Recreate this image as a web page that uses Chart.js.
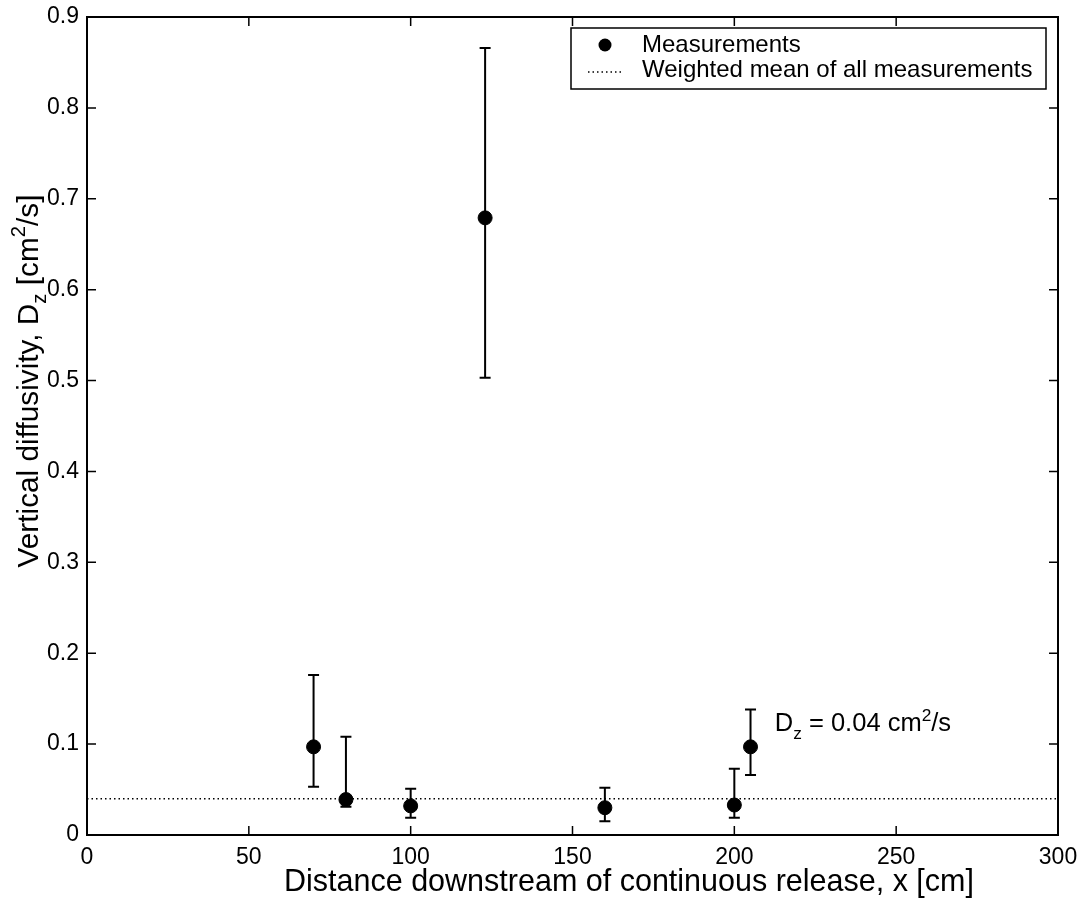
<!DOCTYPE html>
<html>
<head>
<meta charset="utf-8">
<script src="https://cdn.jsdelivr.net/npm/chart.js@4/dist/chart.umd.min.js"></script>
<style>
  html, body { margin: 0; padding: 0; background: #fff; }
  #wrap { width: 1081px; height: 901px; position: relative; }
</style>
</head>
<body>
<div id="wrap"><canvas id="c" width="1081" height="901"></canvas></div>
<script>
// Downstream distance of each measurement [cm]
const xPos = [70, 80, 100, 123, 160, 200, 205];
// Vertical diffusivity D_z [cm^2/s] with lower / upper error limits
const dz     = [0.097, 0.039, 0.032, 0.679, 0.030, 0.033, 0.097];
const dzLow  = [0.053, 0.031, 0.019, 0.503, 0.015, 0.019, 0.066];
const dzHigh = [0.176, 0.108, 0.051, 0.866, 0.052, 0.073, 0.138];
// Weighted mean of all measurements
const meanDz = 0.04;
const meanRange = [0, 300];
// Axis ticks
const xTickValues = [0, 50, 100, 150, 200, 250, 300];
const yTickValues = [0, 0.1, 0.2, 0.3, 0.4, 0.5, 0.6, 0.7, 0.8, 0.9];
const yTickLabels = ['0', '0.1', '0.2', '0.3', '0.4', '0.5', '0.6', '0.7', '0.8', '0.9'];

const FONT = '"Liberation Sans", Arial, Helvetica, sans-serif';

// Draws a string made of normal / subscript / superscript runs
function drawRuns(ctx, runs, x, y, size, align) {
  const parts = runs.map(r => {
    const s = r.mode ? size * 0.68 : size;
    ctx.font = s + 'px ' + FONT;
    return { t: r.t, mode: r.mode, s: s, w: ctx.measureText(r.t).width };
  });
  const total = parts.reduce((a, p) => a + p.w, 0);
  let cx = align === 'center' ? x - total / 2 : x;
  ctx.textAlign = 'left';
  ctx.textBaseline = 'alphabetic';
  parts.forEach(p => {
    ctx.font = p.s + 'px ' + FONT;
    let dy = 0;
    if (p.mode === 'sub') dy = size * 0.28;
    if (p.mode === 'sup') dy = -size * 0.42;
    ctx.fillText(p.t, cx, y + dy);
    cx += p.w;
  });
}

const errorBars = {
  id: 'errorBars',
  afterDatasetsDraw(chart) {
    const { ctx, scales: { x, y } } = chart;
    ctx.save();
    ctx.strokeStyle = '#000';
    ctx.lineWidth = 2;
    const cap = 5.5;
    xPos.forEach((xv, i) => {
      const px = x.getPixelForValue(xv);
      const lo = y.getPixelForValue(dzLow[i]);
      const hi = y.getPixelForValue(dzHigh[i]);
      ctx.beginPath();
      ctx.moveTo(px, lo); ctx.lineTo(px, hi);
      ctx.moveTo(px - cap, lo); ctx.lineTo(px + cap, lo);
      ctx.moveTo(px - cap, hi); ctx.lineTo(px + cap, hi);
      ctx.stroke();
    });
    ctx.restore();
  }
};

const frame = {
  id: 'frame',
  afterDraw(chart) {
    const { ctx, chartArea: a, scales: { x, y } } = chart;
    ctx.save();
    ctx.strokeStyle = '#000';
    ctx.lineWidth = 2;
    ctx.strokeRect(a.left, a.top, a.right - a.left, a.bottom - a.top);
    // inward ticks on all four sides
    const tl = 9;
    ctx.lineWidth = 1.5;
    ctx.beginPath();
    xTickValues.forEach(v => {
      const px = x.getPixelForValue(v);
      ctx.moveTo(px, a.bottom); ctx.lineTo(px, a.bottom - tl);
      ctx.moveTo(px, a.top); ctx.lineTo(px, a.top + tl);
    });
    yTickValues.forEach(v => {
      const py = y.getPixelForValue(v);
      ctx.moveTo(a.left, py); ctx.lineTo(a.left + tl, py);
      ctx.moveTo(a.right, py); ctx.lineTo(a.right - tl, py);
    });
    ctx.stroke();

    ctx.fillStyle = '#000';
    // x axis title
    drawRuns(ctx, [{ t: 'Distance downstream of continuous release, x [cm]' }], 629, 891, 30.5, 'center');
    // y axis title (rotated)
    ctx.save();
    ctx.translate(38, 381);
    ctx.rotate(-Math.PI / 2);
    drawRuns(ctx, [
      { t: 'Vertical diffusivity, D' }, { t: 'z', mode: 'sub' },
      { t: ' [cm' }, { t: '2', mode: 'sup' }, { t: '/s]' }
    ], 0, 0, 29.8, 'center');
    ctx.restore();

    // mean value annotation
    const ax = x.getPixelForValue(212.5);
    const ay = y.getPixelForValue(0.114);
    drawRuns(ctx, [
      { t: 'D' }, { t: 'z', mode: 'sub' }, { t: ' = 0.04 cm' },
      { t: '2', mode: 'sup' }, { t: '/s' }
    ], ax, ay, 25.5, 'left');

    // legend box
    const L = { left: 571, top: 28, right: 1046, bottom: 89 };
    ctx.fillStyle = '#fff';
    ctx.fillRect(L.left, L.top, L.right - L.left, L.bottom - L.top);
    ctx.lineWidth = 1.5;
    ctx.strokeStyle = '#000';
    ctx.strokeRect(L.left, L.top, L.right - L.left, L.bottom - L.top);
    ctx.fillStyle = '#000';
    ctx.beginPath();
    ctx.arc(605, 45, 6.5, 0, Math.PI * 2);
    ctx.fill();
    ctx.setLineDash([1.5, 3]);
    ctx.lineWidth = 1.5;
    ctx.beginPath();
    ctx.moveTo(588, 72); ctx.lineTo(624, 72);
    ctx.stroke();
    ctx.setLineDash([]);
    ctx.font = '24px ' + FONT;
    ctx.textAlign = 'left';
    ctx.textBaseline = 'middle';
    ctx.fillText(chart.data.datasets[0].label, 642, 45);
    ctx.fillText(chart.data.datasets[1].label, 642, 70);
    ctx.restore();
  }
};

new Chart(document.getElementById('c'), {
  type: 'scatter',
  data: {
    datasets: [
      {
        label: 'Measurements',
        data: xPos.map((v, i) => ({ x: v, y: dz[i] })),
        pointRadius: 7,
        pointHoverRadius: 7,
        pointBackgroundColor: '#000',
        pointBorderColor: '#000',
        showLine: false,
        order: 1
      },
      {
        label: 'Weighted mean of all measurements',
        data: meanRange.map(v => ({ x: v, y: meanDz })),
        showLine: true,
        borderColor: '#000',
        borderWidth: 1.5,
        borderDash: [1.5, 3],
        pointRadius: 0,
        order: 2
      }
    ]
  },
  options: {
    responsive: false,
    animation: false,
    events: [],
    layout: { autoPadding: false, padding: { top: 17, right: 23, left: 0, bottom: 0 } },
    plugins: { legend: { display: false }, tooltip: { enabled: false } },
    scales: {
      x: {
        type: 'linear',
        min: 0, max: 300,
        grid: { display: false, drawTicks: false },
        border: { display: false },
        afterFit(s) { s.height = 66; s.paddingLeft = 0; s.paddingRight = 0; },
        afterBuildTicks(s) { s.ticks = xTickValues.map(v => ({ value: v })); },
        ticks: {
          color: '#000',
          font: { family: FONT, size: 23 },
          padding: 9,
          maxRotation: 0,
          callback: v => String(v)
        }
      },
      y: {
        type: 'linear',
        min: 0, max: 0.9,
        grid: { display: false, drawTicks: false },
        border: { display: false },
        afterFit(s) { s.width = 87; s.paddingTop = 0; s.paddingBottom = 0; },
        afterBuildTicks(s) { s.ticks = yTickValues.map(v => ({ value: v })); },
        ticks: {
          color: '#000',
          font: { family: FONT, size: 23 },
          padding: 8,
          callback: (v) => {
            const i = yTickValues.findIndex(t => Math.abs(t - v) < 1e-9);
            return i >= 0 ? yTickLabels[i] : '';
          }
        }
      }
    }
  },
  plugins: [errorBars, frame]
});
</script>
</body>
</html>
